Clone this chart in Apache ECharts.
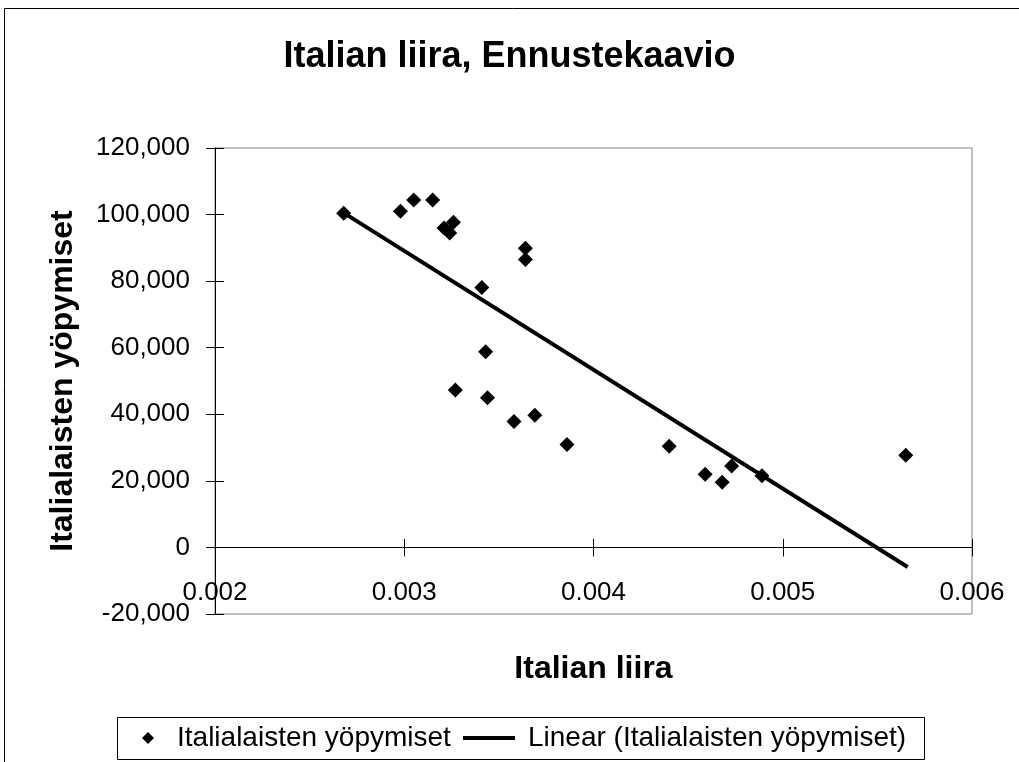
<!DOCTYPE html>
<html>
<head>
<meta charset="utf-8">
<script src="https://cdn.jsdelivr.net/npm/echarts@6/dist/echarts.min.js"></script>
<style>
  html, body { margin: 0; padding: 0; background: #fff; }
  #chart { width: 1019px; height: 762px; }
</style>
</head>
<body>
<div id="chart"></div>
<script>
// Italian lira exchange rate vs. Italian overnight stays
const liraRate = [0.00268, 0.00298, 0.00305, 0.00315, 0.00321, 0.00326, 0.00324, 0.00364, 0.00364, 0.00341, 0.00343,
    0.00327, 0.00344, 0.00358, 0.00369, 0.00386, 0.00440, 0.00459, 0.00468, 0.00473, 0.00489, 0.00565];
const overnightStays = [100400, 101000, 104400, 104400, 96000, 97700, 94500, 89900, 86500, 78100, 58800,
    47300, 45000, 37800, 39700, 30900, 30400, 22000, 19600, 24500, 21500, 27700];

// trend line end points as drawn in the picture
const trendX = [0.00268, 0.00566];
const trendY = [100500, -5900];

const seriesName = 'Italialaisten yöpymiset';
const trendName = 'Linear (Italialaisten yöpymiset)';
const FONT = '"Liberation Sans", Arial, sans-serif';

const X_RANGE = { min: 0.002, max: 0.006, interval: 0.001 };
const Y_RANGE = { min: -20000, max: 120000, interval: 20000 };
const plotRect = { left: 215, right: 47, top: 148, bottom: 148 };
// upper part of the plot, ending at y = 0, so the x labels sit under the zero line
const upperRect = { left: 215, right: 47, top: 148, bottom: 214 };

const chart = echarts.init(document.getElementById('chart'));

const fmtThousands = v => v.toLocaleString('en-US');

const hiddenAxis = extra => Object.assign({
    type: 'value',
    axisLine: { show: false, onZero: false },
    axisTick: { show: false },
    axisLabel: { show: false },
    splitLine: { show: false },
}, extra);

const option = {
    animation: false,
    backgroundColor: '#fff',
    textStyle: { fontFamily: FONT, color: '#000' },
    title: {
        text: 'Italian liira, Ennustekaavio',
        left: 'center',
        top: 39,
        padding: 0,
        textStyle: { fontFamily: FONT, fontSize: 36, fontWeight: 'bold', color: '#000', lineHeight: 36 },
    },
    legend: [
        {
            data: [seriesName],
            left: 142,
            top: 724,
            padding: 0,
            icon: 'diamond',
            itemWidth: 12,
            itemHeight: 12,
            textStyle: { fontFamily: FONT, fontSize: 28, color: '#000', padding: [0, 0, 0, 18] },
        },
        {
            data: [trendName],
            left: 463,
            top: 724,
            padding: 0,
            icon: 'rect',
            itemWidth: 52,
            itemHeight: 4,
            textStyle: { fontFamily: FONT, fontSize: 28, color: '#000', padding: [0, 0, 0, 8] },
        },
    ],
    graphic: [
        {
            // outer chart frame
            type: 'rect',
            shape: { x: 4.5, y: 8.5, width: 1100, height: 900 },
            style: { fill: 'none', stroke: '#000', lineWidth: 1 },
            silent: true,
        },
        {
            // legend box
            type: 'rect',
            shape: { x: 117.5, y: 717.5, width: 807, height: 42 },
            style: { fill: 'none', stroke: '#000', lineWidth: 1 },
            silent: true,
        },
    ],
    grid: [
        Object.assign({ show: true, borderColor: '#808080', borderWidth: 1, backgroundColor: '#fff' }, plotRect),
        Object.assign({ show: false }, upperRect),
        Object.assign({ show: false }, plotRect),
    ],
    xAxis: [
        // zero line with the lower half of the ticks
        Object.assign({
            type: 'value',
            gridIndex: 0,
            axisLine: { onZero: true, lineStyle: { color: '#000', width: 1 } },
            axisTick: { show: true, length: 9, lineStyle: { color: '#000' } },
            axisLabel: { show: false },
            splitLine: { show: false },
        }, X_RANGE),
        // labels, name and upper half of the ticks
        Object.assign({
            type: 'value',
            gridIndex: 1,
            position: 'bottom',
            name: 'Italian liira',
            nameLocation: 'middle',
            nameGap: 105,
            nameTextStyle: { fontFamily: FONT, fontSize: 32, fontWeight: 'bold', color: '#000' },
            axisLine: { show: false, onZero: false },
            axisTick: { show: true, inside: true, length: 9, lineStyle: { color: '#000' } },
            axisLabel: {
                fontFamily: FONT,
                fontSize: 26,
                color: '#000',
                margin: 32,
                formatter: v => v.toFixed(3),
            },
            splitLine: { show: false },
        }, X_RANGE),
        hiddenAxis(Object.assign({ gridIndex: 2 }, X_RANGE)),
    ],
    yAxis: [
        Object.assign({
            type: 'value',
            gridIndex: 0,
            name: 'Italialaisten yöpymiset',
            nameLocation: 'middle',
            nameGap: 136,
            nameTextStyle: { fontFamily: FONT, fontSize: 32, fontWeight: 'bold', color: '#000' },
            axisLine: { show: true, onZero: false, lineStyle: { color: '#000', width: 1 } },
            axisTick: { show: true, length: 9, lineStyle: { color: '#000' } },
            axisLabel: {
                fontFamily: FONT,
                fontSize: 26,
                color: '#000',
                margin: 25,
                formatter: fmtThousands,
            },
            splitLine: { show: false },
        }, Y_RANGE),
        hiddenAxis({ gridIndex: 1, min: 0, max: 120000, interval: 20000 }),
        // inner half of the crossing y ticks
        Object.assign({
            type: 'value',
            gridIndex: 2,
            axisLine: { show: false, onZero: false },
            axisTick: { show: true, inside: true, length: 9, lineStyle: { color: '#000' } },
            axisLabel: { show: false },
            splitLine: { show: false },
        }, Y_RANGE),
    ],
    series: [
        {
            name: seriesName,
            type: 'scatter',
            xAxisIndex: 0,
            yAxisIndex: 0,
            symbol: 'diamond',
            symbolSize: 15,
            itemStyle: { color: '#000', opacity: 1 },
            data: liraRate.map((x, i) => [x, overnightStays[i]]),
        },
        {
            name: trendName,
            type: 'line',
            xAxisIndex: 0,
            yAxisIndex: 0,
            symbol: 'none',
            lineStyle: { color: '#000', width: 4 },
            itemStyle: { color: '#000' },
            data: trendX.map((x, i) => [x, trendY[i]]),
        },
    ],
};

chart.setOption(option);
</script>
</body>
</html>
